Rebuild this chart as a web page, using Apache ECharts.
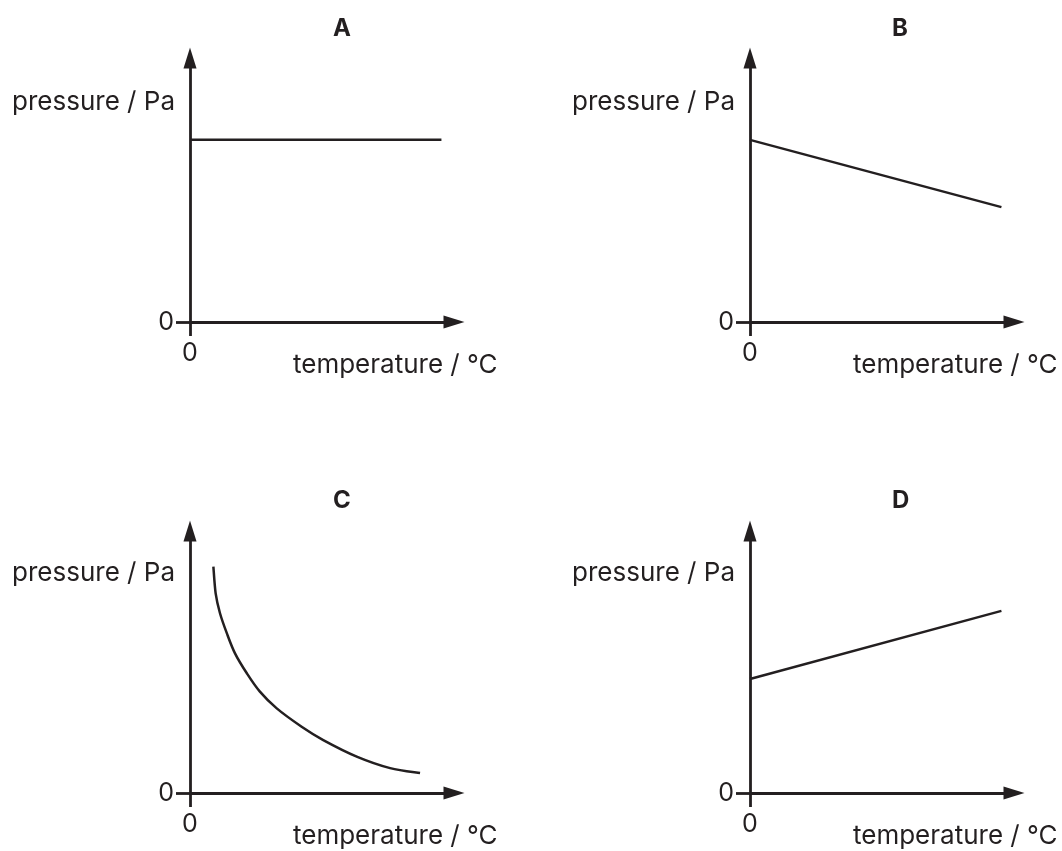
<!DOCTYPE html>
<html>
<head>
<meta charset="utf-8">
<style>
  html, body { margin: 0; padding: 0; background: #ffffff; }
  #chart { width: 1062px; height: 851px; }
</style>
<script src="https://cdn.jsdelivr.net/npm/echarts@6/dist/echarts.min.js"></script>
</head>
<body>
<div id="chart"></div>
<script>
// ---- data ----
const panelTitles = ['A', 'B', 'C', 'D'];
const xAxisName = 'temperature / °C';
const yAxisName = 'pressure / Pa';
const tickValues = [0];
const tickLabels = ['0'];
const xMax = 10.5;
const yMax = 10;
const seriesA = [[0, 6.9], [10, 6.9]];
const seriesB = [[0, 6.9], [10, 4.35]];
const seriesC = [[0.93, 8.64], [1.02, 7.62], [1.19, 6.87], [1.46, 6.11], [1.79, 5.33],
                 [2.26, 4.57], [2.78, 3.87], [3.45, 3.23], [4.44, 2.53], [5.3, 2.02],
                 [6.63, 1.39], [7.96, 0.95], [9.15, 0.76]];
const seriesD = [[0, 4.35], [10, 6.95]];

// ---- layout / style ----
const INK = '#231f20';
const FONT = 'Inter';
const grids = [
  { left: 190, top: 58,  width: 264, height: 264 },
  { left: 750, top: 58,  width: 264, height: 264 },
  { left: 190, top: 531, width: 264, height: 262 },
  { left: 750, top: 531, width: 264, height: 262 }
];
const titlePos = [
  { left: 333, top: 17 },
  { left: 892, top: 17 },
  { left: 333, top: 489 },
  { left: 892, top: 489 }
];
const yNameGap = [-44, -44, -42, -42];
const axisLineStyle = { color: INK, width: 2.8 };
const curveStyle = { color: INK, width: 2.5 };

// straight-line panels
const lineSeries = [[0, seriesA], [1, seriesB], [3, seriesD]].map(([idx, d]) => ({
  type: 'line',
  xAxisIndex: idx,
  yAxisIndex: idx,
  data: d,
  showSymbol: false,
  symbol: 'none',
  lineStyle: curveStyle,
  silent: true
}));

// panel C: smooth curve through the read points (positions from the axes via api.coord)
const curveSeries = {
  type: 'custom',
  coordinateSystem: 'cartesian2d',
  xAxisIndex: 2,
  yAxisIndex: 2,
  data: seriesC,
  silent: true,
  renderItem: function (params, api) {
    if (params.dataIndex !== 0) return null;
    const pts = seriesC.map((p) => api.coord(p));
    let d = 'M' + pts[0][0] + ',' + pts[0][1];
    for (let i = 0; i < pts.length - 1; i++) {
      const p0 = pts[i - 1] || pts[i];
      const p1 = pts[i];
      const p2 = pts[i + 1];
      const p3 = pts[i + 2] || p2;
      const c1x = p1[0] + (p2[0] - p0[0]) / 6, c1y = p1[1] + (p2[1] - p0[1]) / 6;
      const c2x = p2[0] - (p3[0] - p1[0]) / 6, c2y = p2[1] - (p3[1] - p1[1]) / 6;
      d += ' C' + c1x + ',' + c1y + ' ' + c2x + ',' + c2y + ' ' + p2[0] + ',' + p2[1];
    }
    return {
      type: 'path',
      shape: { pathData: d },
      style: { fill: 'none', stroke: curveStyle.color, lineWidth: curveStyle.width }
    };
  }
};

const option = {
  animation: false,
  backgroundColor: '#ffffff',
  title: panelTitles.map((t, i) => ({
    text: t,
    left: titlePos[i].left,
    top: titlePos[i].top,
    padding: 0,
    textStyle: { fontFamily: FONT, fontWeight: 'bold', fontSize: 24, color: INK }
  })),
  grid: grids,
  xAxis: grids.map((g, i) => ({
    type: 'value',
    gridIndex: i,
    min: 0,
    max: xMax,
    name: xAxisName,
    nameLocation: 'end',
    nameGap: -161,
    nameTextStyle: {
      fontFamily: FONT, fontSize: 26, color: INK,
      align: 'left', verticalAlign: 'top', padding: [30, 0, 0, 0]
    },
    axisLine: {
      show: true, onZero: false,
      symbol: ['none', 'triangle'], symbolSize: [13, 21],
      lineStyle: axisLineStyle
    },
    axisTick: { show: true, customValues: tickValues, length: 14, lineStyle: axisLineStyle },
    axisLabel: {
      show: true, customValues: tickValues, margin: 19,
      formatter: (v) => tickLabels[tickValues.indexOf(v)] ?? '',
      fontFamily: FONT, fontSize: 25, color: INK
    },
    splitLine: { show: false }
  })),
  yAxis: grids.map((g, i) => ({
    type: 'value',
    gridIndex: i,
    min: 0,
    max: yMax,
    name: yAxisName,
    nameLocation: 'end',
    nameGap: yNameGap[i],
    nameTextStyle: {
      fontFamily: FONT, fontSize: 26, color: INK,
      align: 'right', verticalAlign: 'middle', padding: [0, 15, 0, 0]
    },
    axisLine: {
      show: true, onZero: false,
      symbol: ['none', 'triangle'], symbolSize: [13, 21],
      lineStyle: axisLineStyle
    },
    axisTick: { show: true, customValues: tickValues, length: 14, lineStyle: axisLineStyle },
    axisLabel: {
      show: true, customValues: tickValues, margin: 16,
      formatter: (v) => tickLabels[tickValues.indexOf(v)] ?? '',
      fontFamily: FONT, fontSize: 25, color: INK
    },
    splitLine: { show: false }
  })),
  series: lineSeries.concat([curveSeries])
};

const chart = echarts.init(document.getElementById('chart'));
chart.setOption(option);
</script>
</body>
</html>
